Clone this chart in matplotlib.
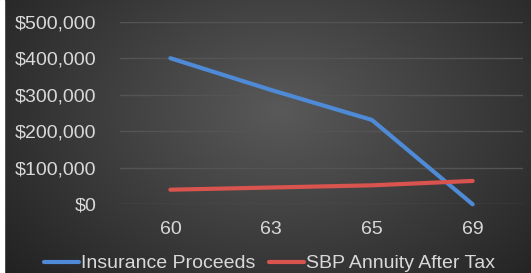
import numpy as np
import matplotlib.pyplot as plt
from matplotlib.patches import Rectangle

ages = ["60", "63", "65", "69"]
insurance = [400000, 313000, 231000, 0]
sbp = [40000, 46000, 52000, 64000]
yticks = [0, 100000, 200000, 300000, 400000, 500000]

plt.rcParams['font.family'] = ['Liberation Sans', 'DejaVu Sans']

fig = plt.figure(figsize=(5.31, 2.73), dpi=100)

# dark radial background
bg = fig.add_axes([0, 0, 1, 1], zorder=0)
yy, xx = np.mgrid[0:273, 0:531]
r = np.sqrt(((xx - 280) / 330.0) ** 2 + ((yy - 110) / 230.0) ** 2)
shade = np.clip(0.35 - 0.2 * r, 0.12, 0.35)
bg.imshow(np.dstack([shade, shade, shade]), aspect='auto', extent=[0, 1, 0, 1], origin='upper')
bg.set_axis_off()
fig.patches.append(Rectangle((0, 0), 4 / 531, 1, transform=fig.transFigure, color='white', zorder=5))

ax = fig.add_axes([0.226, 0.2516, 0.759, 0.669], zorder=1)
ax.patch.set_alpha(0)
x = np.arange(len(ages))
ax.plot(x, insurance, color='#4f8ad6', lw=3, label='Insurance Proceeds', solid_capstyle='round', clip_on=False)
ax.plot(x, sbp, color='#d9534f', lw=3, label='SBP Annuity After Tax', solid_capstyle='round', clip_on=False)

ax.set_xlim(-0.5, len(ages) - 0.5)
ax.set_ylim(0, 500000)
ax.set_xticks(x)
ax.set_xticklabels(ages)
ax.set_yticks(yticks)
ax.set_yticklabels([f"${v:,}" for v in yticks])
ax.tick_params(length=0, labelsize=14, colors='#d9d9d9')
ax.tick_params(axis='y', pad=17)
ax.tick_params(axis='x', pad=12)
ax.grid(axis='y', color='#545454', lw=1)
ax.set_axisbelow(True)
for s in ax.spines.values():
    s.set_visible(False)

leg = ax.legend(loc='center', bbox_to_anchor=(0.372, -0.325), ncol=2, frameon=False,
                fontsize=14, labelcolor='#d9d9d9', handlelength=1.8, handletextpad=0.1,
                columnspacing=0.7, borderaxespad=0, borderpad=0)

fig.savefig('out.png', dpi=100)
